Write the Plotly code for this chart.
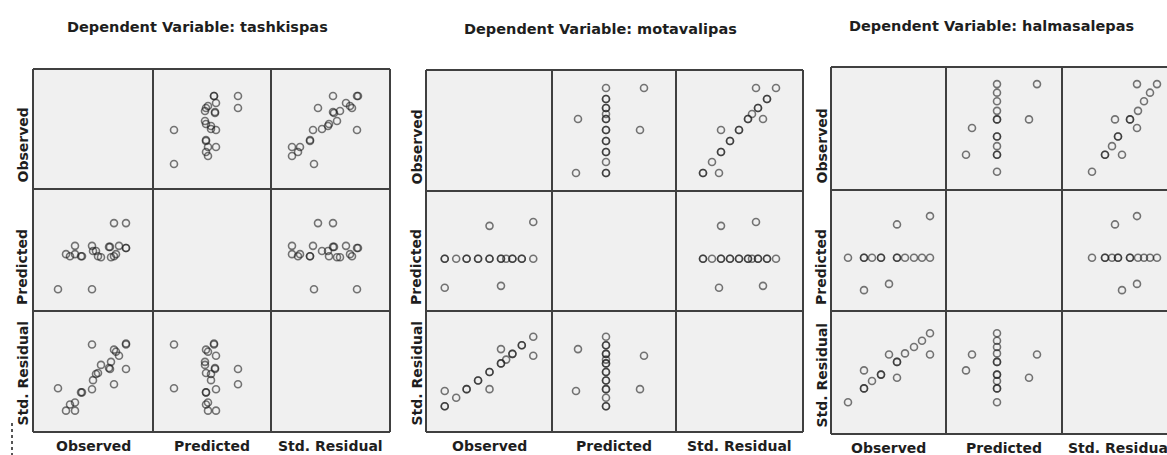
import plotly.graph_objects as go

W, H = 1167, 455

titles = ["Dependent Variable: tashkispas",
          "Dependent Variable: motavalipas",
          "Dependent Variable: halmasalepas"]
var_names = ["Observed", "Predicted", "Std. Residual"]

# ---- data (arbitrary units) ----
# Panel 1: tashkispas
tash_observed = [25, 59, 81, 93, 93, 93, 86, 81, 83, 78, 77, 76, 68, 65, 63, 60, 59, 49, 48, 42, 42, 37, 33]
tash_predicted = [21, 21, 85, 85, 61, 61, 63, 53, 55, 52, 62, 62, 52, 53, 58, 58, 63, 53, 53, 55, 63, 53, 55]
tash_residual = [43, 86, 47, 62, 87, 86, 75, 81, 79, 69, 62, 63, 66, 58, 57, 51, 42, 39, 39, 29, 21, 27, 21]

# Panel 2: motavalipas
mot_observed = [18, 18, 29, 39, 39, 50, 50, 61, 61, 72, 72, 77, 83, 83, 92, 92, 103, 103, 61, 72, 18]
mot_predicted = [54, 54, 54, 54, 54, 54, 54, 54, 54, 54, 54, 54, 54, 54, 54, 54, 54, 92, 88, 26, 24]
mot_residual = [27, 27, 36, 45, 45, 54, 54, 63, 63, 72, 72, 76, 82, 82, 91, 91, 100, 80, 45, 87, 43]

# Panel 3: halmasalepas
hal_observed = [17, 33, 33, 41, 50, 50, 66, 66, 74, 83, 91, 99, 99, 66, 58, 33]
hal_predicted = [51, 51, 51, 51, 51, 51, 51, 51, 51, 51, 51, 51, 91, 83, 26, 20]
hal_residual = [30, 43, 43, 50, 56, 56, 68, 68, 76, 82, 88, 95, 75, 53, 75, 60]

datasets = [
    (tash_observed, tash_predicted, tash_residual),
    (mot_observed, mot_predicted, mot_residual),
    (hal_observed, hal_predicted, hal_residual),
]

# value span covered by one cell, per variable (Observed, Predicted, Std. Residual)
spans = [
    [(0, 120), (0, 118), (0, 119)],
    [(0, 121), (0, 124), (0, 127)],
    [(0, 115), (0, 116), (0, 116)],
]

# ---- layout geometry in pixels ----
geom = [
    dict(cols=[33, 153, 271, 390], rows=[69, 189, 311, 432], title=(197, 27), lab_x=22, col_lab_y=446),
    dict(cols=[426, 552, 676, 803], rows=[70, 191, 311, 432], title=(600, 29), lab_x=416, col_lab_y=446),
    dict(cols=[831, 946, 1062, 1178], rows=[67, 190, 311, 434], title=(991, 26), lab_x=821, col_lab_y=448),
]

FONT = "DejaVu Sans"
TXT = "#1e1e1e"
BORDER = "#404040"
MARK = dict(symbol="circle-open", size=7, color="rgba(30,30,30,0.6)", line=dict(width=1.6))


def px(x):
    return x / W


def py(y):
    return 1 - y / H


fig = go.Figure()
layout_axes = {}
shapes = []
annotations = []
ax = 0

for data, g, sp, title in zip(datasets, geom, spans, titles):
    cols, rows = g["cols"], g["rows"]
    for r in range(3):
        for c in range(3):
            x0, x1 = cols[c], cols[c + 1]
            y0, y1 = rows[r], rows[r + 1]
            shapes.append(dict(type="rect", xref="paper", yref="paper",
                               x0=px(x0), x1=px(x1), y0=py(y1), y1=py(y0),
                               fillcolor="#f0f0f0", line=dict(width=0), layer="below"))
            if r == c:
                continue
            ax += 1
            lo, hi = sp[c]
            xd1 = min(x1, W)
            hi_eff = lo + (hi - lo) * (xd1 - x0) / (x1 - x0)
            sfx = "" if ax == 1 else str(ax)
            layout_axes["xaxis" + sfx] = dict(domain=[px(x0), px(xd1)], range=[lo, hi_eff],
                                              visible=False, anchor="y" + sfx, fixedrange=True)
            layout_axes["yaxis" + sfx] = dict(domain=[py(y1), py(y0)], range=list(sp[r]),
                                              visible=False, anchor="x" + sfx, fixedrange=True)
            fig.add_trace(go.Scatter(x=data[c], y=data[r], mode="markers",
                                     xaxis="x" + sfx, yaxis="y" + sfx,
                                     marker=MARK, hoverinfo="skip", showlegend=False,
                                     cliponaxis=False))
    # grid borders
    for xc in cols:
        shapes.append(dict(type="line", xref="paper", yref="paper",
                           x0=px(xc), x1=px(xc), y0=py(rows[0]), y1=py(rows[3]),
                           line=dict(color=BORDER, width=2), layer="above"))
    for yr in rows:
        shapes.append(dict(type="line", xref="paper", yref="paper",
                           x0=px(cols[0]), x1=px(cols[3]), y0=py(yr), y1=py(yr),
                           line=dict(color=BORDER, width=2), layer="above"))
    # title
    annotations.append(dict(text="<b>" + title + "</b>", x=px(g["title"][0]), y=py(g["title"][1]),
                            xref="paper", yref="paper", xanchor="center", yanchor="middle",
                            showarrow=False, font=dict(family=FONT, size=14.5, color=TXT)))
    for i, name in enumerate(var_names):
        # row labels (rotated, starting at bottom of cell)
        annotations.append(dict(text="<b>" + name + "</b>", x=px(g["lab_x"]), y=py(rows[i + 1] - 4),
                                xref="paper", yref="paper", xanchor="center", yanchor="bottom",
                                textangle=-90, showarrow=False,
                                font=dict(family=FONT, size=14, color=TXT)))
        # column labels
        annotations.append(dict(text="<b>" + name + "</b>", x=px((cols[i] + cols[i + 1]) / 2),
                                y=py(g["col_lab_y"]), xref="paper", yref="paper",
                                xanchor="center", yanchor="middle", showarrow=False,
                                font=dict(family=FONT, size=14, color=TXT)))

# small dotted mark at bottom-left
shapes.append(dict(type="line", xref="paper", yref="paper", x0=px(12), x1=px(12),
                   y0=py(423), y1=py(455), line=dict(color="#555555", width=2, dash="dot")))

fig.update_layout(
    width=W, height=H, autosize=False,
    margin=dict(l=0, r=0, t=0, b=0, pad=0),
    paper_bgcolor="white", plot_bgcolor="rgba(0,0,0,0)",
    shapes=shapes, annotations=annotations, showlegend=False,
    **layout_axes,
)

fig.write_html("out.html", config={"displayModeBar": False},
               post_script="document.body.style.margin='0';document.body.style.overflow='hidden';")
